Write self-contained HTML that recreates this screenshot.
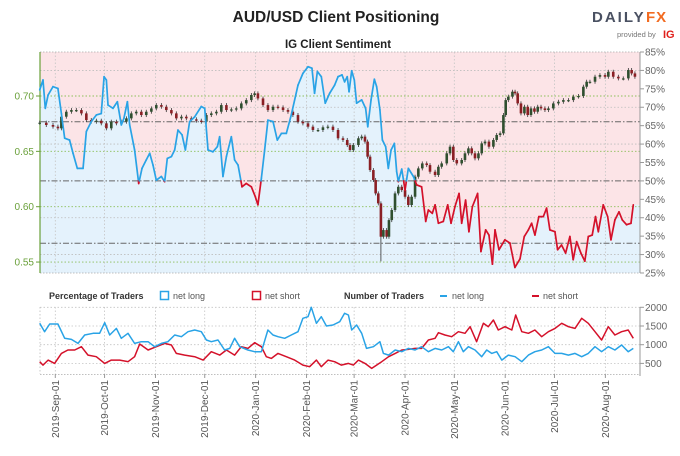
<!DOCTYPE html>
<html><head><meta charset="utf-8">
<style>
body{margin:0;background:#fff;width:680px;height:456px;overflow:hidden;font-family:"Liberation Sans",sans-serif;}
svg{display:block}
</style></head>
<body>
<svg id="chart" width="680" height="456" viewBox="0 0 680 456" xmlns="http://www.w3.org/2000/svg">
  <text x="336" y="22" text-anchor="middle" font-size="15.5" font-weight="bold" fill="#222">AUD/USD Client Positioning</text>
  <g>
    <text x="592" y="22" font-size="15" font-weight="bold" fill="#4a5162" letter-spacing="2">DAILY</text>
    <text x="646" y="22" font-size="15" font-weight="bold" fill="#f26b21" letter-spacing="1">FX</text>
    <text x="617" y="37" font-size="7.5" fill="#777">provided by</text>
    <text x="663" y="38" font-size="11" font-weight="bold" fill="#e0201b">IG</text>
  </g>
  <text x="338" y="48" text-anchor="middle" font-size="11.5" font-weight="bold" fill="#222">IG Client Sentiment</text>
  <g id="topPanel"></g>
  <g id="legend">
    <text x="49" y="299" font-size="9" font-weight="bold" fill="#333">Percentage of Traders</text>
    <rect x="160.5" y="291.5" width="8" height="8" fill="none" stroke="#29a3e6" stroke-width="1.5"/>
    <text x="173" y="299" font-size="9" fill="#555">net long</text>
    <rect x="252.5" y="291.5" width="8" height="8" fill="none" stroke="#d4112a" stroke-width="1.5"/>
    <text x="265" y="299" font-size="9" fill="#555">net short</text>
    <text x="344" y="299" font-size="9" font-weight="bold" fill="#333">Number of Traders</text>
    <line x1="440" y1="296" x2="447" y2="296" stroke="#29a3e6" stroke-width="2"/>
    <text x="452" y="299" font-size="9" fill="#555">net long</text>
    <line x1="532" y1="296" x2="539" y2="296" stroke="#d4112a" stroke-width="2"/>
    <text x="543" y="299" font-size="9" fill="#555">net short</text>
  </g>
  <g id="bottomPanel"></g>
</svg>
<script>
// ---- data (day = days since 2019-09-01) ----
const monthLabels = ["2019-Sep-01","2019-Oct-01","2019-Nov-01","2019-Dec-01","2020-Jan-01","2020-Feb-01","2020-Mar-01","2020-Apr-01","2020-May-01","2020-Jun-01","2020-Jul-01","2020-Aug-01"];
const monthDays = [0,30,61,91,122,153,182,213,243,274,304,335];
const pctTicks = [85,80,75,70,65,60,55,50,45,40,35,30,25];
const priceTicks = [0.70,0.65,0.60,0.55];
const countTicks = [2000,1500,1000,500];

const sentDays = [-9.5,-7.5,-6.1,-4.4,-1.4,1.6,3.7,5.7,8.7,10.8,13.4,16.9,18.9,21.9,25,28,29.7,31.1,32.1,35.1,37.8,40.2,41.8,43.9,45.3,48.3,50.8,52.8,55.4,57.5,59.5,61.5,64.6,66.6,68.2,70.7,72.7,74.7,77.2,79.2,81.8,84.9,88.9,91,93,96,98.7,100.1,102.1,104.2,107.2,109.2,111.3,113.7,116.3,119.4,121.8,123.4,125.5,127.5,129.5,132.6,135.2,137.7,140.7,143.7,147.8,150.8,153.9,156.3,157.9,159.6,162,164.4,167.1,170.1,172.2,174.6,176.2,177.8,178.9,180.5,182.1,183.5,186.6,189,190.3,192.3,194.3,195.7,197.7,199.2,201.2,202.8,204.5,206.5,207.9,208.9,211,213,215,218.1,220.1,223.1,225.6,227.2,229.6,231.3,233.3,236.3,239,241,243.4,245.9,247.5,249.9,251.9,254,257.2,259.2,262.1,264.1,266.2,267.8,270.2,273.8,276.9,279.9,283,285.6,288.1,290.1,292.1,294.5,297.2,299.2,301.2,304.3,305.9,308.3,310.8,313.4,315.4,317.5,320.1,322.5,324.6,327,329,330.7,333.7,336.4,338.4,340.8,343.3,345.3,347.9,350.6,352];
const sentLong = [74.7,77.4,69.7,73.3,75.6,75.1,68.3,61.6,61.1,57.5,53.4,53.4,63.4,66.1,67.9,68.3,78.3,77.4,70.6,69.7,71.5,65.2,67,71.5,65.2,58.4,49.3,53.4,55.7,57.5,54.3,50.2,51.2,49.8,56.1,56.6,58.4,63.8,62.5,58.4,66.1,67.4,70.2,69.7,58.4,57.9,59.3,62,51.2,56.6,62,55.7,54.3,48.4,49.3,48.4,45.7,43.5,50.7,58.4,66.5,66.1,61.1,62.9,62.9,67.9,76,79.2,81,80.6,73.8,79.7,78.3,71.1,73.8,76,78.3,78.8,76.9,78.3,74.2,79.9,77.4,71.1,72,69.7,64.7,72,77.6,75.6,69.3,61.1,59.3,53.4,58.4,60.2,52.5,49.8,53.2,47.5,53.4,51.2,48.9,48.4,39,42.1,41.2,43.5,38.5,39,43.5,38.5,43,46.6,38.5,44.8,36.2,43,46.6,30.8,36.7,35.3,27.4,36.7,31.3,34,33.1,26.5,28.8,34.9,36.7,38.5,35.3,40.3,40.3,42.6,36.7,36.2,31.3,32.6,30.4,34.9,28.6,33.5,30.4,28.2,34.9,35.3,40.3,36.2,43.5,40.3,34,39.4,41.6,39.4,38.1,38.5,43.5];

const priceDays = [-9.5,-5.5,-1.4,1.6,3.7,6.7,9.8,12.8,15.9,18.9,21.9,25,28,31.1,34.1,37.2,40.2,43.3,46.3,49.3,52.4,55.4,58.5,61.5,64.6,67.6,70.7,73.7,76.8,79.8,82.8,85.9,88.9,92,95,98.1,101.1,104.2,107.2,110.2,113.3,116.3,119.4,121.4,123.4,126.5,129.5,132.6,135.6,138.7,141.7,144.7,147.8,150.8,153.9,156.9,160,163,166,169.1,172.2,175.2,177.8,179.5,181.5,184.6,186.6,188.6,190.2,191.7,193.7,195.1,196.7,198.3,199.8,201.8,203.2,204.9,206.9,208.9,211,213,215,217,219.1,221.1,223.5,226.2,228.2,231.3,233.3,235.3,238.4,240.4,242.4,244.5,247.5,249.5,251.6,253.6,255.6,257.7,259.7,261.7,264.1,266.8,268.8,270.9,272.9,274.3,275.9,278.4,280,281.6,283.6,285.7,287.7,289.7,291.8,293.8,295.8,298.2,300.3,303.3,306.4,309.4,312.5,315.5,318.6,321.6,323.6,325.6,328.7,331.7,334.8,336.8,339.8,342.9,345.9,349,351,353];
const priceClose = [0.6759,0.6738,0.6723,0.6708,0.6813,0.6858,0.6873,0.6873,0.6843,0.6783,0.6768,0.6777,0.6753,0.6708,0.6768,0.6753,0.6768,0.6798,0.6843,0.6858,0.6828,0.6858,0.6888,0.6918,0.6903,0.6873,0.6843,0.6798,0.6813,0.6798,0.6789,0.6777,0.6768,0.6828,0.6843,0.6858,0.6918,0.6873,0.6879,0.6888,0.6933,0.6963,0.7009,0.7024,0.6978,0.6918,0.6873,0.6903,0.6897,0.6873,0.6858,0.6828,0.6768,0.6753,0.6723,0.6693,0.6693,0.6717,0.6723,0.6693,0.6618,0.6603,0.6557,0.6512,0.6557,0.6618,0.6633,0.6588,0.6452,0.6331,0.6241,0.612,0.603,0.5729,0.5789,0.5729,0.5879,0.597,0.612,0.618,0.615,0.609,0.6015,0.609,0.6271,0.6346,0.6391,0.6376,0.6316,0.6286,0.6361,0.6391,0.6482,0.6542,0.6422,0.6391,0.6422,0.6482,0.6527,0.6482,0.6437,0.6482,0.6572,0.6588,0.6542,0.6603,0.6648,0.6663,0.6828,0.6963,0.6994,0.7039,0.7024,0.6933,0.6843,0.6903,0.6828,0.6888,0.6858,0.6903,0.6888,0.6873,0.6888,0.6933,0.6948,0.6963,0.6963,0.6994,0.7000,0.7084,0.7129,0.7129,0.7174,0.7189,0.7174,0.7219,0.7174,0.7159,0.7159,0.7235,0.7204,0.7174];
const crashLowDay = [198.3];
const crashLowVal = [0.5506];

const longCountDays = [-9.5,-6.5,-3.4,1.6,5.7,9.8,13.8,17.9,23,27,30.1,33.1,37.2,40.2,44.3,48.3,52.4,56.5,60.5,64.6,68.6,72.7,76.8,80.8,84.9,88.9,92,95,99.1,103.1,106.2,109.2,112.3,117.3,121.4,125.5,129.5,132.6,135.6,139.7,143.7,147.8,150.8,153.9,155.9,159,162,165.1,169.1,173.2,176.2,178.5,180.5,183.5,186.6,189.5,193.7,197.7,199.8,203,207,211,215,219.1,223.1,227.2,231.3,235.3,239.4,242.4,245.5,248.5,251.6,255.6,259.7,262.7,265.8,268.8,271.9,275.9,280,284.1,288.1,292.1,296.2,300.3,304.3,308.4,312.5,316.5,320.6,324.6,328.7,332.7,336.8,340.8,344.9,348.9,352];
const longCount = [1571,1348,1553,1553,1170,1143,1036,1259,1304,1304,1589,1259,1437,1170,1304,1036,1080,1080,946,1036,1080,1259,1214,1348,1393,1348,1125,1080,1125,857,902,1170,946,857,812,812,1393,1259,1214,1170,1259,1348,1705,1750,2000,1571,1750,1500,1527,1616,1839,1795,1393,1527,1304,902,946,1080,768,723,857,812,902,857,946,812,902,857,946,812,1080,812,946,857,679,857,768,812,589,723,679,545,723,812,857,946,768,768,723,768,679,768,946,812,946,857,991,812,902];
const shortCountDays = [-9.5,-7.5,-4.4,-0.4,3.7,7.7,11.8,15.9,19.9,25,30.1,34.1,39.2,44.3,48.3,51.4,56.5,61.5,66.6,70.7,73.7,78.8,84.9,90,95,100.1,104.2,109.2,113.3,117.3,121.4,125.5,128.5,131.6,135.6,140.7,145.8,150.8,154.9,159,162,166.1,170.1,174.2,178.5,181.5,184.6,188.6,192.7,195.7,198.8,203,207,211,215,219.1,223.1,227.2,231.3,233.3,237.3,241.4,245.5,249.5,252.6,256.6,260.7,263.7,266.8,269.8,273.9,278,280.4,284.1,288.1,292.1,296.2,300.3,304.3,308.4,312.5,316.5,320.6,324.6,328.7,332.7,336.8,340.8,344.9,348.9,352];
const shortCount = [545,455,589,500,768,857,857,946,723,679,500,589,589,545,679,1018,857,946,1036,991,768,723,679,589,813,723,857,723,946,902,1054,946,679,634,768,679,589,455,411,589,411,589,545,455,500,455,589,500,366,455,545,679,768,857,875,902,902,1125,1170,1321,1259,1214,1348,1304,1482,1080,1571,1482,1661,1393,1482,1393,1795,1348,1304,1393,1214,1348,1437,1571,1482,1437,1705,1571,1348,1125,1482,1259,1348,1393,1170];

// ---- scales ----
const X0 = 40, X1 = 640;
const xDay = d => 55.3 + d * 1.642;
const yPct = p => 52 + (85 - p) * 3.683;
const yPrice = v => 96 + (0.70 - v) * 1107;
const yCnt = c => 307.3 + (2000 - c) * 0.0374;
const NS = "http://www.w3.org/2000/svg";
function mk(tag, attrs, parent) {
  const e = document.createElementNS(NS, tag);
  for (const k in attrs) e.setAttribute(k, attrs[k]);
  parent.appendChild(e);
  return e;
}
const topG = document.getElementById('topPanel');
const botG = document.getElementById('bottomPanel');

// ---- top panel background ----
let bg = mk('rect', {x: X0, y: 52, width: X1 - X0, height: 221, fill: '#fce4e7'}, topG);


let fillPts = sentDays.map((d, i) => xDay(d).toFixed(1) + ',' + yPct(sentLong[i]).toFixed(1));
fillPts.push(X1 + ',' + yPct(sentLong[sentLong.length - 1]).toFixed(1));
fillPts.push(X1 + ',273', X0 + ',273', X0 + ',' + yPct(sentLong[0]).toFixed(1));
let fillPoly = mk('polygon', {points: fillPts.join(' '), fill: '#e4f2fc'}, topG);



// grid: percent
pctTicks.forEach(p => {
  const y = yPct(p);
  if (p % 10 === 0 && p !== 50) {
    let g = mk('line', {x1: X0, x2: X1, y1: y, y2: y, stroke: '#bdbdbd', 'stroke-width': 0.8, 'stroke-dasharray': '1.5,2'}, topG);
    
    
  }
  let tk = mk('line', {x1: X1, x2: X1 + 4, y1: y, y2: y, stroke: '#999', 'stroke-width': 1}, topG);
  
  
  let t = mk('text', {x: X1 + 5, y: y + 3.5, 'font-size': 10, fill: '#666'}, topG);
  t.textContent = p + '%';
  
  
});
[52, 273].forEach(y => {
  let b = mk('line', {x1: X0, x2: X1, y1: y, y2: y, stroke: '#aaa', 'stroke-width': 0.8, 'stroke-dasharray': '1.5,1.5'}, topG);
  
  
});
// grid: price
priceTicks.forEach(v => {
  const y = yPrice(v);
  let g = mk('line', {x1: X0, x2: X1, y1: y, y2: y, stroke: '#8cbf5a', 'stroke-width': 0.9, 'stroke-dasharray': '1.5,2'}, topG);
  
  
  let tk = mk('line', {x1: X0 - 4, x2: X0, y1: y, y2: y, stroke: '#6aa03a', 'stroke-width': 1}, topG);
  
  
  let t = mk('text', {x: X0 - 6, y: y + 3.5, 'font-size': 10, fill: '#6aa03a', 'text-anchor': 'end'}, topG);
  t.textContent = v.toFixed(2);
  
  
});
// dash-dot reference lines
[121.7, yPct(50), 243.3].forEach(y => {
  let r = mk('line', {x1: X0, x2: X1, y1: y, y2: y, stroke: '#666', 'stroke-width': 1, 'stroke-dasharray': '6,2,1.5,2'}, topG);
  
  
});
// month gridlines
monthDays.forEach(d => {
  const x = xDay(d);
  let g = mk('line', {x1: x, x2: x, y1: 52, y2: 273, stroke: '#c4c4c4', 'stroke-width': 0.8, 'stroke-dasharray': '1.5,2'}, topG);
  
  
  let g2 = mk('line', {x1: x, x2: x, y1: 307, y2: 374, stroke: '#c4c4c4', 'stroke-width': 0.8, 'stroke-dasharray': '1.5,2'}, botG);
  
  
});
let la = mk('line', {x1: X0, x2: X0, y1: 52, y2: 273, stroke: '#6aa03a', 'stroke-width': 1.2}, topG);


let ra = mk('line', {x1: X1, x2: X1, y1: 52, y2: 273, stroke: '#999', 'stroke-width': 1}, topG);



// candles
priceClose.forEach((c, i) => {
  const o = i > 0 ? priceClose[i - 1] : c;
  const x = xDay(priceDays[i]);
  let hi = Math.max(o, c) + 0.0018, lo = Math.min(o, c) - 0.0018;
  crashLowDay.forEach((d, k) => { if (Math.abs(d - priceDays[i]) < 0.5) lo = crashLowVal[k]; });
  const up = c >= o;
  let w = mk('line', {x1: x, x2: x, y1: yPrice(hi), y2: yPrice(lo), stroke: '#333', 'stroke-width': 0.8}, topG);
  
  
  const yt = yPrice(Math.max(o, c)), yb = yPrice(Math.min(o, c));
  let b = mk('rect', {x: x - 1.3, y: yt, width: 2.6, height: Math.max(1.2, yb - yt), fill: up ? '#2f4f2f' : '#8a1f24'}, topG);
  
  
});

// sentiment line split at 50%
for (let i = 0; i < sentLong.length - 1; i++) {
  const a = sentLong[i], b = sentLong[i + 1];
  const xa = xDay(sentDays[i]), xb = xDay(sentDays[i + 1]);
  const segs = [];
  if ((a - 50) * (b - 50) < 0) {
    const t = (50 - a) / (b - a);
    const xm = xa + t * (xb - xa);
    segs.push([xa, a, xm, 50, a >= 50]);
    segs.push([xm, 50, xb, b, b >= 50]);
  } else {
    segs.push([xa, a, xb, b, (a + b) / 2 >= 50]);
  }
  segs.forEach(s => {
    let l = mk('line', {x1: s[0], y1: yPct(s[1]), x2: s[2], y2: yPct(s[3]), stroke: s[4] ? '#29a3e6' : '#d4112a', 'stroke-width': 1.7, 'stroke-linecap': 'round'}, topG);
    
    
  });
}

// ---- bottom panel ----
countTicks.forEach(c => {
  const y = yCnt(c);
  let g = mk('line', {x1: X0, x2: X1, y1: y, y2: y, stroke: '#c4c4c4', 'stroke-width': 0.8, 'stroke-dasharray': '1.5,2'}, botG);
  
  
  let tk = mk('line', {x1: X1, x2: X1 + 4, y1: y, y2: y, stroke: '#999'}, botG);
  
  
  let t = mk('text', {x: X1 + 5, y: y + 3.5, 'font-size': 10, fill: '#666'}, botG);
  t.textContent = c;
  
  
});
let lb = mk('line', {x1: X0, x2: X0, y1: 307, y2: 374, stroke: '#bbb', 'stroke-width': 0.8, 'stroke-dasharray': '1.5,2'}, botG);


let rb = mk('line', {x1: X1, x2: X1, y1: 307, y2: 376, stroke: '#999'}, botG);


let xb = mk('line', {x1: X0, x2: X1, y1: 374.5, y2: 374.5, stroke: '#aaa', 'stroke-width': 0.8, 'stroke-dasharray': '1.5,1.5'}, botG);



function seriesPath(days, vals) {
  return days.map((d, i) => (i ? 'L' : 'M') + xDay(d).toFixed(1) + ',' + yCnt(vals[i]).toFixed(1)).join('');
}
let sp = mk('path', {d: seriesPath(shortCountDays, shortCount), fill: 'none', stroke: '#d4112a', 'stroke-width': 1.5, 'stroke-linejoin': 'round'}, botG);


let lp = mk('path', {d: seriesPath(longCountDays, longCount), fill: 'none', stroke: '#29a3e6', 'stroke-width': 1.5, 'stroke-linejoin': 'round'}, botG);



monthLabels.forEach((m, i) => {
  const x = xDay(monthDays[i]);
  let tk = mk('line', {x1: x, x2: x, y1: 374, y2: 378, stroke: '#999'}, botG);
  
  
  let t = mk('text', {x: 0, y: 0, 'font-size': 10, fill: '#555', 'text-anchor': 'end', transform: 'translate(' + (x + 3.5) + ',380) rotate(-90)'}, botG);
  t.textContent = m;
  
  
});
</script>
</body></html>
